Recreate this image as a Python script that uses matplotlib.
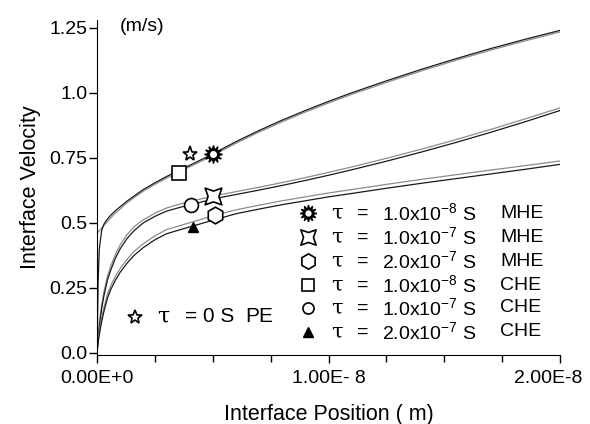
import matplotlib
matplotlib.use("Agg")
import matplotlib.pyplot as plt
import matplotlib.transforms as mtrans
import numpy as np
from matplotlib.path import Path

plt.rcParams['font.family'] = ['Liberation Sans', 'DejaVu Sans']
plt.rcParams['mathtext.default'] = 'regular'

# x positions in units of 1e-8 m
pos = [0, 0.005, 0.01, 0.02, 0.03, 0.045, 0.06, 0.08, 0.1, 0.13, 0.16, 0.2, 0.25, 0.3, 0.36,
       0.43, 0.5, 0.6, 0.7, 0.8, 0.9, 1.0, 1.1, 1.25, 1.4, 1.55, 1.7, 1.85, 2.0]

# tau = 1e-8 s
v_mhe_1e8 = [0.46, 0.465, 0.47, 0.48, 0.49, 0.505, 0.52, 0.538, 0.553, 0.577, 0.597, 0.622, 0.648,
             0.672, 0.698, 0.728, 0.759, 0.806, 0.849, 0.889, 0.926, 0.961, 0.994, 1.04, 1.084,
             1.125, 1.164, 1.2, 1.234]
v_che_1e8 = [0.0, 0.28, 0.40, 0.47, 0.495, 0.515, 0.53, 0.547, 0.562, 0.584, 0.603, 0.628, 0.654,
             0.678, 0.704, 0.734, 0.765, 0.812, 0.855, 0.895, 0.932, 0.967, 1.0, 1.046, 1.09,
             1.131, 1.17, 1.206, 1.24]
# tau = 1e-7 s
v_mhe_1e7 = [0.0, 0.07, 0.115, 0.185, 0.235, 0.295, 0.335, 0.38, 0.415, 0.455, 0.485, 0.512, 0.537,
             0.557, 0.573, 0.588, 0.603, 0.62, 0.637, 0.655, 0.674, 0.694, 0.715, 0.748, 0.783,
             0.82, 0.859, 0.9, 0.942]
v_che_1e7 = [0.0, 0.06, 0.10, 0.17, 0.22, 0.28, 0.32, 0.365, 0.40, 0.44, 0.47, 0.50, 0.525,
             0.545, 0.56, 0.575, 0.592, 0.609, 0.626, 0.644, 0.663, 0.683, 0.704, 0.737, 0.772,
             0.809, 0.848, 0.889, 0.932]
# tau = 2e-7 s
v_mhe_2e7 = [0.0, 0.05, 0.085, 0.135, 0.175, 0.225, 0.26, 0.295, 0.325, 0.36, 0.39, 0.42, 0.45,
             0.474, 0.49, 0.508, 0.527, 0.55, 0.568, 0.585, 0.60, 0.615, 0.628, 0.648, 0.667,
             0.685, 0.703, 0.72, 0.738]
v_che_2e7 = [0.0, 0.04, 0.07, 0.12, 0.16, 0.21, 0.245, 0.28, 0.31, 0.345, 0.375, 0.405, 0.435,
             0.458, 0.474, 0.492, 0.51, 0.535, 0.553, 0.57, 0.585, 0.60, 0.613, 0.633, 0.652,
             0.67, 0.688, 0.706, 0.725]

# marker points (position in 1e-8 m, velocity)
pt_pe = (0.40, 0.765)
pt_mhe_1e8 = (0.50, 0.765)
pt_che_1e8 = (0.355, 0.69)
pt_mhe_1e7 = (0.50, 0.605)
pt_che_1e7 = (0.405, 0.57)
pt_mhe_2e7 = (0.51, 0.53)
pt_che_2e7 = (0.415, 0.485)

xticks = [0, 1, 2]
xticklabels = ['0.00E+0', '1.00E- 8', '2.00E-8']
yticks = [0.0, 0.25, 0.5, 0.75, 1.0, 1.25]
yticklabels = ['0.0', '0.25', '0.5', '0.75', '1.0', '1.25']

legend_labels = [
    ('1.0x10$^{-8}$ S', 'MHE'),
    ('1.0x10$^{-7}$ S', 'MHE'),
    ('2.0x10$^{-7}$ S', 'MHE'),
    ('1.0x10$^{-8}$ S', 'CHE'),
    ('1.0x10$^{-7}$ S', 'CHE'),
    ('2.0x10$^{-7}$ S', 'CHE'),
]

# concave-square marker
cs = Path([(-1, -1), (0, -0.65), (1, -1), (0.65, 0), (1, 1), (0, 0.65), (-1, 1), (-0.65, 0), (-1, -1)],
          [Path.MOVETO] + [Path.LINETO] * 7 + [Path.CLOSEPOLY])

W, H = 590, 424
fig = plt.figure(figsize=(W / 100, H / 100), dpi=100)
ax = fig.add_axes([97 / W, 1 - 355 / H, (560 - 97) / W, (355 - 20) / H])

x = np.array(pos)
gray = '#8c8c8c'
dark = '#1a1a1a'
ax.plot(x, v_mhe_1e8, color=gray, lw=0.9)
ax.plot(x, v_che_1e8, color=dark, lw=0.9)
ax.plot(x, v_mhe_1e7, color=gray, lw=0.9)
ax.plot(x, v_che_1e7, color=dark, lw=0.9)
ax.plot(x, v_mhe_2e7, color=gray, lw=0.9)
ax.plot(x, v_che_2e7, color=dark, lw=0.9)

mk = dict(color='black', linestyle='none', zorder=5)
ax.plot(*pt_pe, marker='*', ms=11, mfc='white', mec='black', mew=1.2, **mk)
ax.plot(*pt_mhe_1e8, marker=(12, 1, 0), ms=13, mfc='black', mec='black', **mk)
ax.plot(*pt_mhe_1e8, marker='o', ms=4, mfc='white', mec='white', **mk)
ax.plot(*pt_che_1e8, marker='s', ms=10, mfc='white', mec='black', mew=1.2, **mk)
ax.plot(*pt_mhe_1e7, marker=cs, ms=12, mfc='white', mec='black', mew=1.2, **mk)
ax.plot(*pt_che_1e7, marker='o', ms=10, mfc='white', mec='black', mew=1.2, **mk)
ax.plot(*pt_mhe_2e7, marker='h', ms=12, mfc='white', mec='black', mew=1.2, **mk)
ax.plot(*pt_che_2e7, marker='^', ms=7, mfc='black', mec='black', **mk)

ax.set_xlim(0, 2)
ax.set_ylim(-0.008, 1.28)
ax.set_xticks(xticks)
ax.set_xticklabels(xticklabels)
ax.set_xticks(np.arange(0, 2.01, 0.25), minor=True)
ax.set_yticks(yticks)
ax.set_yticklabels(yticklabels)
ax.tick_params(axis='both', which='major', labelsize=14, length=6, width=1, direction='out', colors='black')
ax.tick_params(axis='y', which='major', pad=1)
ax.tick_params(axis='x', which='minor', length=5, width=1)
ax.tick_params(axis='x', which='major', pad=5)
lab = ax.get_xticklabels()
lab[-1].set_transform(lab[-1].get_transform() + mtrans.ScaledTranslation(-12 / 100, 0, fig.dpi_scale_trans))
ax.spines['top'].set_visible(False)
ax.spines['right'].set_visible(False)
ax.set_xlabel('Interface Position ( m)', fontsize=15.5, labelpad=12)
ax.set_ylabel('Interface Velocity', fontsize=15.5, labelpad=6)

ax.text(0.1, 1.255, '(m/s)', fontsize=14, ha='left', va='center')

# legend-like annotation
tr = fig.transFigure
rows_y = [213, 237, 261, 285, 308, 332]
mks = [
    dict(marker=(12, 1, 0), ms=12, mfc='black', mec='black'),
    dict(marker=cs, ms=11, mfc='white', mec='black', mew=1.2),
    dict(marker='h', ms=11, mfc='white', mec='black', mew=1.2),
    dict(marker='s', ms=9, mfc='white', mec='black', mew=1.2),
    dict(marker='o', ms=8, mfc='white', mec='black', mew=1.2),
    dict(marker='^', ms=7, mfc='black', mec='black'),
]
for ry, m, (val, kind) in zip(rows_y, mks, legend_labels):
    yf = 1 - ry / H
    ax.plot([308 / W], [yf], transform=tr, clip_on=False, linestyle='none', **m)
    if m['marker'] == (12, 1, 0):
        ax.plot([308 / W], [yf], transform=tr, clip_on=False, linestyle='none',
                marker='o', ms=3.5, mfc='white', mec='white')
    fig.text(331 / W, yf, 'τ', fontsize=15, family=['DejaVu Serif'], ha='left', va='center')
    fig.text(357 / W, yf, '=', fontsize=14, ha='left', va='center')
    fig.text(382 / W, yf, val, fontsize=14, ha='left', va='center')
    fig.text(500 / W, yf, kind, fontsize=14, ha='left', va='center')

ype = 1 - 317 / H
ax.plot([135 / W], [ype], transform=tr, clip_on=False, linestyle='none',
        marker='*', ms=10, mfc='white', mec='black', mew=1.2)
fig.text(157 / W, ype, 'τ', fontsize=16, family=['DejaVu Serif'], ha='left', va='center')
fig.text(185 / W, ype, '= 0 S', fontsize=15, ha='left', va='center')
fig.text(245 / W, ype, 'PE', fontsize=15, ha='left', va='center')

fig.savefig('out.png', dpi=100)
